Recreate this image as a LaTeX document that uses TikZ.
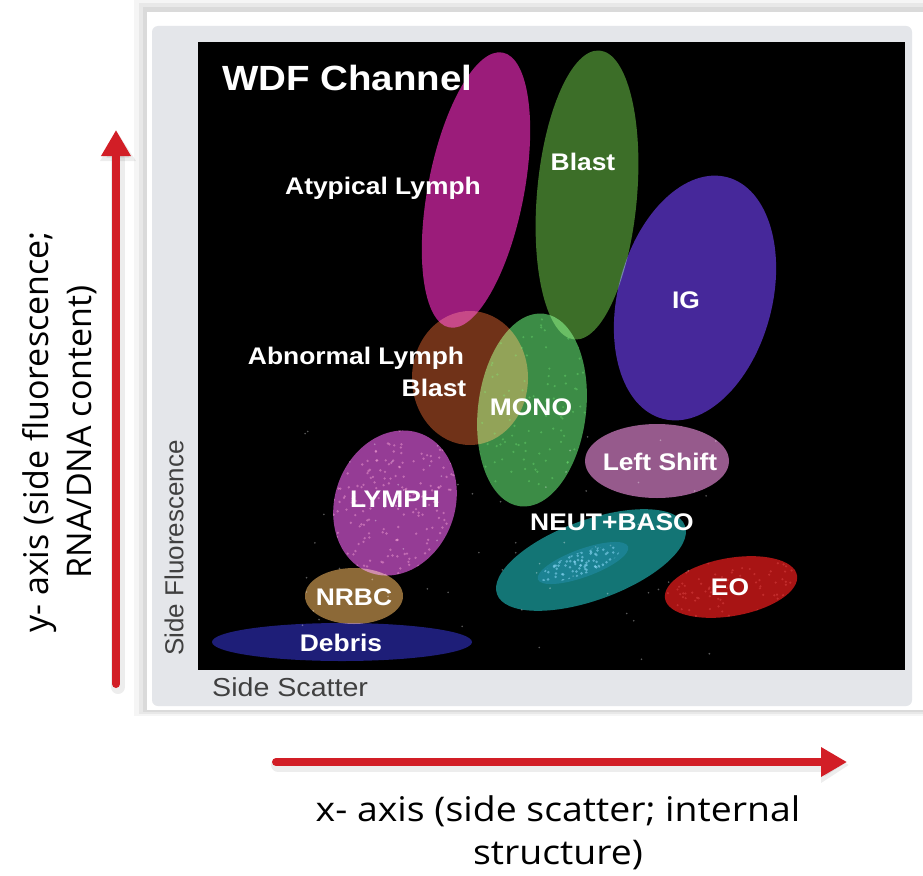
\documentclass[tikz,border=0pt]{standalone}
\usepackage{fontspec}
\setmainfont{Liberation Sans}
\newfontfamily\axisfont{Open Sans}
\usetikzlibrary{arrows.meta}

\definecolor{axisred}{RGB}{210,30,38}
\definecolor{panelgrey}{RGB}{228,230,234}
\definecolor{atypcol}{RGB}{155,28,122}
\definecolor{blastcol}{RGB}{60,110,40}
\definecolor{igcol}{RGB}{70,40,154}
\definecolor{abncol}{RGB}{112,50,24}
\definecolor{monocol}{RGB}{60,140,70}
\definecolor{shiftcol}{RGB}{150,90,140}
\definecolor{lymphcol}{RGB}{149,60,149}
\definecolor{neutcol}{RGB}{19,117,117}
\definecolor{eocol}{RGB}{168,20,20}
\definecolor{nrbccol}{RGB}{140,105,55}
\definecolor{debriscol}{RGB}{30,30,120}

\tikzset{
  gate/.style={blend mode=screen},
  gatelabel/.style={text=white, font=\bfseries\fontsize{24}{24}\selectfont, xscale=1.1, inner sep=0pt},
  panellabel/.style={text=black!75, font=\fontsize{26}{26}\selectfont, inner sep=0pt},
  axisarrow/.style={draw=axisred, line width=8pt, line cap=round, -{Triangle[length=26pt,width=28pt]}},
  arrowshadow/.style={draw=black, opacity=.07, line width=14pt, line cap=round, -{Triangle[length=28pt,width=34pt]}},
  axislabel/.style={font=\axisfont\fontsize{34}{43}\selectfont, align=center, inner sep=0pt},
}

\begin{document}
\begin{tikzpicture}[x=1pt,y=-1pt]
\useasboundingbox (0,0) rectangle (923,875);
\fill[white] (0,0) rectangle (923,875);

% frame with soft shadow
\fill[black, opacity=.04] (134,0) rectangle (923,716);
\fill[black, opacity=.05] (139,3) rectangle (923,714);
\fill[black, opacity=.06] (143,7) rectangle (923,712);
\fill[white] (147,12) rectangle (923,710);
\fill[panelgrey, rounded corners=6pt] (152,26) rectangle (912,706);
\fill[black] (198,42) rectangle (905,670);

% faint events on the black
\pgfmathsetseed{11}
\foreach \i in {1,...,70}
  \fill[white, opacity=.35] ({300+420*rnd},{430+235*rnd}) circle (0.9);

% gates
\fill[gate, atypcol, rotate around={-11:(476,190)}] (476,190) ellipse (48 and 140);
\fill[gate, blastcol, rotate around={-5:(587,195)}] (587,195) ellipse (50 and 145);
\fill[gate, igcol, rotate around={-15:(695,298)}] (695,298) ellipse (77 and 125);
\fill[gate, abncol] (470,378) ellipse (58 and 67);
\fill[gate, monocol, rotate around={-7:(532,410)}] (532,410) ellipse (54 and 97);
\fill[gate, shiftcol] (657,461) ellipse (72 and 37);
\fill[gate, lymphcol, rotate around={-20:(395,503)}] (395,503) ellipse (60 and 74);
\fill[gate, neutcol, rotate around={20:(591,560)}] (591,560) ellipse (100 and 40);
\fill[gate, eocol, rotate around={10:(731,587)}] (731,587) ellipse (67 and 29);
\fill[gate, nrbccol] (354,596) ellipse (49 and 28);
\fill[gate, debriscol] (342,642) ellipse (130 and 19);

% dense clusters
\fill[cyan!60!teal, opacity=.35, rotate around={20:(583,563)}] (583,563) ellipse (48 and 14);
\begin{scope}
  \clip[rotate around={20:(580,564)}] (580,564) ellipse (42 and 11);
  \foreach \i in {1,...,160}
    \fill[cyan!45!white, opacity=.55] ({536+90*rnd},{545+40*rnd}) circle (1.4);
\end{scope}
\begin{scope}
  \clip[rotate around={-20:(395,503)}] (395,503) ellipse (60 and 74);
  \foreach \i in {1,...,220}
    \fill[magenta!35!white, opacity=.45] ({330+130*rnd},{428+150*rnd}) circle (1.3);
\end{scope}
\begin{scope}
  \clip[rotate around={-7:(532,410)}] (532,410) ellipse (54 and 97);
  \foreach \i in {1,...,120}
    \fill[green!50!white, opacity=.3] ({478+110*rnd},{312+196*rnd}) circle (1.2);
\end{scope}
\begin{scope}
  \clip[rotate around={10:(731,587)}] (731,587) ellipse (67 and 29);
  \foreach \i in {1,...,90}
    \fill[red!60!white, opacity=.3] ({664+134*rnd},{556+62*rnd}) circle (1.2);
\end{scope}

% gate labels
\node[gatelabel, font=\bfseries\fontsize{35}{35}\selectfont, anchor=west] (wdf) at (222,78) {WDF Channel};
\node[gatelabel] (atyp) at (383,188) {Atypical Lymph};
\node[gatelabel] (blast) at (583,162) {Blast};
\node[gatelabel] (ig) at (686,300) {IG};
\node[gatelabel] (abn) at (356,358) {Abnormal Lymph};
\node[gatelabel] (abnblast) at (434,388) {Blast};
\node[gatelabel] (mono) at (531,407) {MONO};
\node[gatelabel] (shift) at (660,462) {Left Shift};
\node[gatelabel] (lymph) at (395,499) {LYMPH};
\node[gatelabel] (neut) at (612,522) {NEUT+BASO};
\node[gatelabel] (eo) at (730,587) {EO};
\node[gatelabel] (nrbc) at (354,597) {NRBC};
\node[gatelabel] (debris) at (341,643) {Debris};

% panel axis titles
\node[panellabel, xscale=1.1, anchor=west] (sscat) at (212,687) {Side Scatter};
\node[panellabel, rotate=90] (sfluo) at (174,548) {Side Fluorescence};

% outer axes
\coordinate (ybot) at (116,684);
\coordinate (ytop) at (116,130);
\coordinate (xleft) at (276,762);
\coordinate (xright) at (847,762);
\draw[arrowshadow] ([shift={(2,3)}]ybot) -- ([shift={(2,3)}]ytop);
\draw[arrowshadow] ([shift={(2,3)}]xleft) -- ([shift={(2,3)}]xright);
\draw[axisarrow] (ybot) -- (ytop);
\draw[axisarrow] (xleft) -- (xright);

\node[axislabel, rotate=90] (ylab) at (60,432) {y- axis (side fluorescence;\\RNA/DNA content)};
\node[axislabel, xscale=1.1] (xlab) at (558,833) {x- axis (side scatter; internal\\structure)};
\end{tikzpicture}
\end{document}
